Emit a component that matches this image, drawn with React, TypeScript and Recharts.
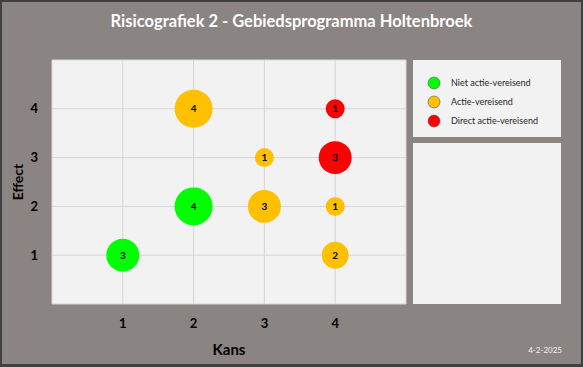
import React from 'react';
import { ScatterChart, Scatter, XAxis, YAxis, ZAxis, CartesianGrid, LabelList, Label } from 'recharts';

const nietActie = [
  { kans: 1, effect: 1, aantal: 3 },
  { kans: 2, effect: 2, aantal: 4 },
];
const actie = [
  { kans: 2, effect: 4, aantal: 4 },
  { kans: 3, effect: 3, aantal: 1 },
  { kans: 3, effect: 2, aantal: 3 },
  { kans: 4, effect: 2, aantal: 1 },
  { kans: 4, effect: 1, aantal: 2 },
];
const directActie = [
  { kans: 4, effect: 4, aantal: 1 },
  { kans: 4, effect: 3, aantal: 3 },
];
const xTicks = [1, 2, 3, 4];
const yTicks = [1, 2, 3, 4];
const title = 'Risicografiek 2 - Gebiedsprogramma Holtenbroek';
const dateLabel = '4-2-2025';

const series = [
  { name: 'Niet actie-vereisend', color: '#00ff00', data: nietActie },
  { name: 'Actie-vereisend', color: '#ffc000', data: actie },
  { name: 'Direct actie-vereisend', color: '#ff0000', data: directActie },
];

const FONT = 'Lato, "Open Sans", sans-serif';

export default function App() {
  return (
    <div style={{ position: 'absolute', left: 0, top: 0, width: 583, height: 367, background: '#8a8483', boxSizing: 'border-box', border: '2px solid #404040', borderBottomWidth: 3, fontFamily: FONT }}>
      <div style={{ position: 'absolute', left: 0, top: 0, width: 579, textAlign: 'center', color: '#ffffff', fontWeight: 'bold', fontSize: 16.5, lineHeight: '20px', paddingTop: 9, whiteSpace: 'nowrap' }}>
        {title}
      </div>
      <div style={{ position: 'absolute', left: 411, top: 58, width: 148, height: 77, background: '#f2f2f2', boxSizing: 'border-box', paddingTop: 13, fontSize: 9, color: '#262626' }}>
        {series.map((s) => (
          <div key={s.name} style={{ display: 'flex', alignItems: 'center', height: 19 }}>
            <svg width={14} height={14} style={{ marginLeft: 14, marginRight: 10 }}>
              <circle cx={7} cy={7} r={6} fill={s.color} stroke="#555" strokeWidth={0.6} />
            </svg>
            <span>{s.name}</span>
          </div>
        ))}
      </div>
      <div style={{ position: 'absolute', left: 411, top: 141, width: 148, height: 161, background: '#f2f2f2' }} />
      <div style={{ position: 'absolute', right: 19, top: 343, color: '#f2f2f2', fontSize: 8 }}>{dateLabel}</div>
      <div style={{ position: 'absolute', left: -2, top: -2 }}>
        <ScatterChart width={583} height={367} margin={{ top: 60, right: 177, bottom: 0, left: 0 }}>
          <CartesianGrid fill="#f2f2f2" stroke="#d6d6d6" strokeWidth={1} />
          <XAxis type="number" dataKey="kans" domain={[0, 5]} ticks={xTicks} height={63} axisLine={false} tickLine={false} tickMargin={9}
            tick={{ fill: '#000', fontWeight: 'bold', fontSize: 13, fontFamily: FONT }}>
            <Label value="Kans" position="insideBottom" offset={12} style={{ fill: '#000', fontWeight: 'bold', fontSize: 15, fontFamily: FONT }} />
          </XAxis>
          <YAxis type="number" dataKey="effect" domain={[0, 5]} ticks={yTicks} width={52} axisLine={false} tickLine={false} tickMargin={8}
            tick={{ fill: '#000', fontWeight: 'bold', fontSize: 13, fontFamily: FONT }}>
            <Label value="Effect" angle={-90} position="insideLeft" offset={18} style={{ fill: '#000', fontWeight: 'bold', fontSize: 14, fontFamily: FONT, textAnchor: 'middle' }} />
          </YAxis>
          <ZAxis type="number" dataKey="aantal" domain={[0, 4]} range={[0, 1134]} />
          {series.map((s) => (
            <Scatter key={s.name} name={s.name} data={s.data} fill={s.color} isAnimationActive={false}>
              <LabelList dataKey="aantal" position="center" style={{ fill: '#000', fontWeight: 'bold', fontSize: 10, fontFamily: FONT }} />
            </Scatter>
          ))}
        </ScatterChart>
      </div>
    </div>
  );
}
